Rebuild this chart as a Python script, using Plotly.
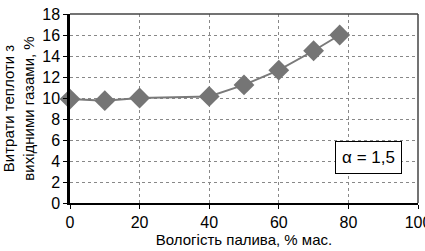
import plotly.graph_objects as go

moisture = [0, 10, 20, 40, 50, 60, 70, 77.5]
heat_loss = [9.9, 9.75, 10.0, 10.15, 11.25, 12.65, 14.5, 16.0]
x_ticks = [0, 20, 40, 60, 80, 100]
y_ticks = [0, 2, 4, 6, 8, 10, 12, 14, 16, 18]

FONT = "Liberation Sans, Arial"

fig = go.Figure()
fig.add_trace(go.Scatter(
    x=moisture, y=heat_loss, mode="lines+markers",
    line=dict(color="#7a7a7a", width=2),
    marker=dict(symbol="diamond", size=16, color="#757575"),
    showlegend=False, cliponaxis=False,
))

fig.add_annotation(
    x=85.85, y=4.31, xref="x", yref="y", text="α = 1,5", showarrow=False,
    font=dict(family=FONT, size=17, color="black"),
    width=57, height=23,
    bordercolor="black", borderwidth=1, bgcolor="white", borderpad=4,
)

fig.update_layout(
    width=425, height=251,
    margin=dict(l=70, r=7, t=14, b=48),
    paper_bgcolor="white", plot_bgcolor="white",
    font=dict(family=FONT, size=16, color="black"),
    xaxis=dict(
        range=[0, 100], tickvals=x_ticks, ticks="outside", ticklen=4,
        tickcolor="black", showline=True, linecolor="black", linewidth=1.5,
        mirror=False, showgrid=True, gridcolor="#888", griddash="dot", gridwidth=1,
        zeroline=False, automargin=False, ticklabeloverflow="allow",
        title=dict(text="Вологість палива, % мас.", font=dict(size=15), standoff=5),
        tickfont=dict(size=16),
    ),
    yaxis=dict(
        range=[0, 18], tickvals=y_ticks, ticks="outside", ticklen=4,
        tickcolor="black", showline=True, linecolor="black", linewidth=2.5,
        showgrid=True, gridcolor="#888", griddash="dot", gridwidth=1,
        zeroline=False, automargin=False,
        title=dict(text="Витрати теплоти з<br>вихідними газами, %", font=dict(size=15), standoff=5),
        tickfont=dict(size=16),
    ),
    shapes=[
        dict(type="line", xref="paper", yref="paper", x0=0, x1=1, y0=1, y1=1,
             line=dict(color="#444", width=1.5)),
        dict(type="line", xref="paper", yref="paper", x0=1, x1=1, y0=0, y1=1,
             line=dict(color="#444", width=1.5)),
    ],
)

fig.write_html("out.html", config={"displayModeBar": False},
               post_script="document.body.style.margin='0';")
